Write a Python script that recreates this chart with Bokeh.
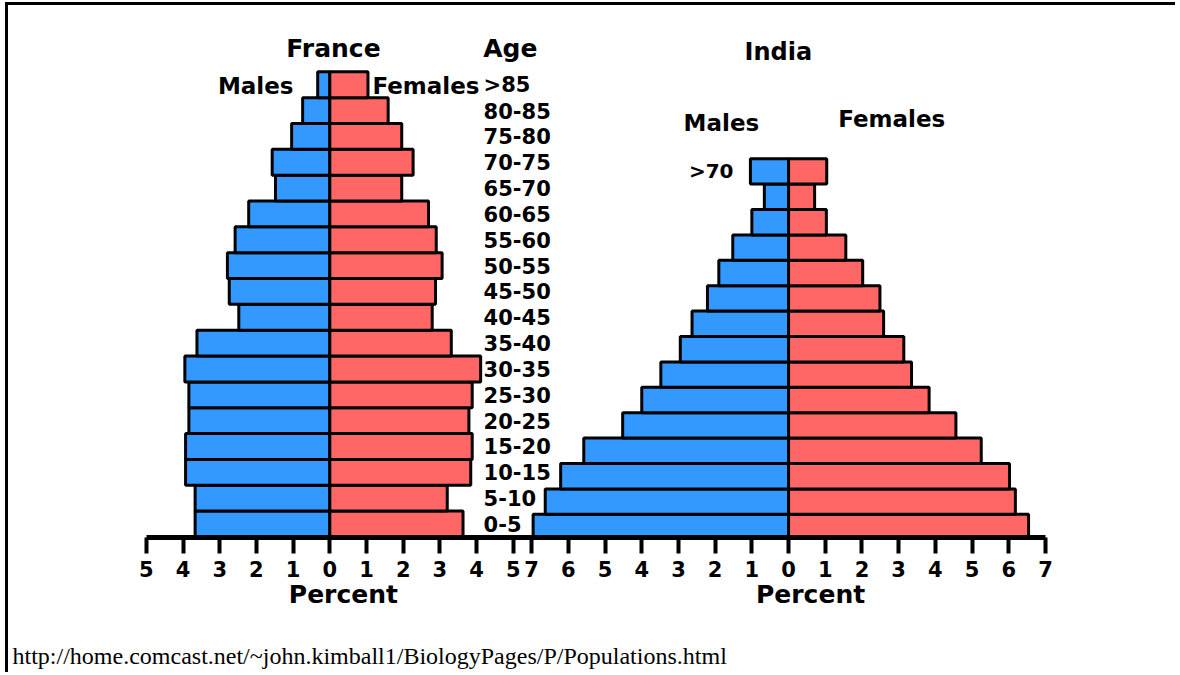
from bokeh.plotting import figure
from bokeh.models import (Range1d, FixedTicker, ColumnDataSource, Label, LinearAxis,
                          Title)
from bokeh.core.properties import value
from bokeh.embed import file_html
from bokeh.resources import INLINE

# ---------------- data ----------------
france_ages = ["0-5", "5-10", "10-15", "15-20", "20-25", "25-30", "30-35", "35-40",
               "40-45", "45-50", "50-55", "55-60", "60-65", "65-70", "70-75",
               "75-80", "80-85", ">85"]
france_male = [3.67, 3.67, 3.93, 3.93, 3.84, 3.84, 3.95, 3.62, 2.48, 2.74, 2.79,
               2.58, 2.21, 1.48, 1.57, 1.04, 0.74, 0.33]
france_female = [3.63, 3.20, 3.84, 3.88, 3.79, 3.88, 4.11, 3.31, 2.79, 2.88, 3.06,
                 2.90, 2.69, 1.96, 2.27, 1.96, 1.59, 1.04]

india_ages = ["0-5", "5-10", "10-15", "15-20", "20-25", "25-30", "30-35", "35-40",
              "40-45", "45-50", "50-55", "55-60", "60-65", "65-70", ">70"]
india_male = [6.96, 6.63, 6.21, 5.58, 4.52, 4.00, 3.48, 2.95, 2.63, 2.21, 1.90,
              1.52, 1.00, 0.66, 1.04]
india_female = [6.54, 6.18, 6.02, 5.25, 4.56, 3.83, 3.35, 3.14, 2.59, 2.49, 2.02,
                1.56, 1.03, 0.71, 1.04]

france_ticks = [-5, -4, -3, -2, -1, 0, 1, 2, 3, 4, 5]
india_ticks = [-7, -6, -5, -4, -3, -2, -1, 0, 1, 2, 3, 4, 5, 6, 7]

axis_title = "Percent"
source_url = "http://home.comcast.net/~john.kimball1/BiologyPages/P/Populations.html"

# ---------------- layout constants ----------------
INDIA_ZERO = 12.5          # where India's 0 sits on the shared percent scale
MALE_COLOR = "#3399FF"
FEMALE_COLOR = "#FF6666"
BOLD_FONT = "DejaVu Sans"

p = figure(width=1170, height=670, output_backend="svg", toolbar_location=None,
           x_range=Range1d(-8.755, 23.125), y_range=Range1d(-0.522, 20.066),
           y_axis_location=None, min_border_left=0, min_border_right=0,
           min_border_top=0, min_border_bottom=138,
           styles={"border-top": "3px solid black", "border-left": "3px solid black",
                   "margin-left": "5px", "margin-top": "2px"})
p.extra_y_ranges = {"india": Range1d(-0.413, 20.53)}
p.outline_line_color = None
p.grid.visible = False
p.background_fill_color = "white"
p.border_fill_color = "white"

# ---------------- France bars ----------------
fr = ColumnDataSource(dict(y=list(range(len(france_ages))),
                           male=[-m for m in france_male], female=france_female))
p.hbar(y="y", left="male", right=0, height=1.0, source=fr,
       fill_color=MALE_COLOR, line_color="black", line_width=3)
p.hbar(y="y", left=0, right="female", height=1.0, source=fr,
       fill_color=FEMALE_COLOR, line_color="black", line_width=3)

# ---------------- India bars ----------------
ind = ColumnDataSource(dict(y=list(range(len(india_ages))),
                            left=[INDIA_ZERO - m for m in india_male],
                            right=[INDIA_ZERO + f for f in india_female]))
p.hbar(y="y", left="left", right=INDIA_ZERO, height=1.0, source=ind,
       y_range_name="india",
       fill_color=MALE_COLOR, line_color="black", line_width=3)
p.hbar(y="y", left=INDIA_ZERO, right="right", height=1.0, source=ind,
       y_range_name="india",
       fill_color=FEMALE_COLOR, line_color="black", line_width=3)

# ---------------- age labels (France) ----------------
lab = ColumnDataSource(dict(y=list(range(len(france_ages))), t=france_ages))
p.text(x=4.19, y="y", text="t", source=lab, text_font=value(BOLD_FONT),
       text_font_style="bold", text_font_size="21px", text_baseline="middle",
       text_align="left", text_color="black")

# ---------------- x axis (percent scale) ----------------
tick_pos = [float(t) for t in france_ticks] + [INDIA_ZERO + t for t in india_ticks]
tick_txt = [str(abs(t)) for t in france_ticks] + [str(abs(t)) for t in india_ticks]
ax = p.xaxis[0]
ax.ticker = FixedTicker(ticks=tick_pos)
ax.major_label_overrides = {pos: txt for pos, txt in zip(tick_pos, tick_txt)}
ax.bounds = (france_ticks[0], INDIA_ZERO + india_ticks[-1])
ax.axis_line_width = 5
ax.axis_line_color = "black"
ax.major_tick_line_width = 4
ax.major_tick_line_color = "black"
ax.major_tick_out = 16
ax.major_tick_in = 0
ax.minor_tick_line_color = None
ax.major_label_text_font = BOLD_FONT
ax.major_label_text_font_style = "bold"
ax.major_label_text_font_size = "21px"
ax.major_label_text_color = "black"
ax.major_label_standoff = 7

# second axis row carrying the two "Percent" titles (blank label = spacing below)
percent_pos = [0.37, INDIA_ZERO + 0.6]
pax = LinearAxis(ticker=FixedTicker(ticks=percent_pos),
                 major_label_overrides={pos: axis_title for pos in percent_pos},
                 axis_line_color=None, major_tick_line_color=None,
                 minor_tick_line_color=None, major_tick_in=0, major_tick_out=0,
                 major_label_standoff=0, major_label_text_font=BOLD_FONT,
                 major_label_text_font_style="bold", major_label_text_font_size="25px",
                 major_label_text_color="black",
                 axis_label="\u00a0", axis_label_standoff=2,
                 axis_label_text_font_size="20px")
p.add_layout(pax, "below")

# source line
p.add_layout(Title(text=source_url, align="left", offset=4, standoff=4,
                   text_font="Liberation Serif", text_font_style="normal",
                   text_font_size="24px", text_color="black"), "below")


def add_label(text, x, y, size, align="center", baseline="middle", y_range="default"):
    p.add_layout(Label(x=x, y=y, text=text, text_font=BOLD_FONT, text_font_style="bold",
                       text_font_size=size, text_align=align, text_baseline=baseline,
                       text_color="black", y_range_name=y_range))


# France headings
add_label("France", 0.10, 18.40, "25px")
add_label("Age", 4.92, 18.40, "25px")
add_label("Males", -0.99, 16.97, "23px", align="right")
add_label("Females", 1.16, 16.97, "23px", align="left")

# India headings
add_label("India", 12.22, 18.25, "24px")
add_label("Males", 10.67, 15.50, "23px")
add_label("Females", 15.31, 15.69, "23px")
add_label(india_ages[-1], 11.0, len(india_ages) - 1, "20px", align="right", y_range="india")

open("out.html", "w").write(file_html(p, INLINE))
